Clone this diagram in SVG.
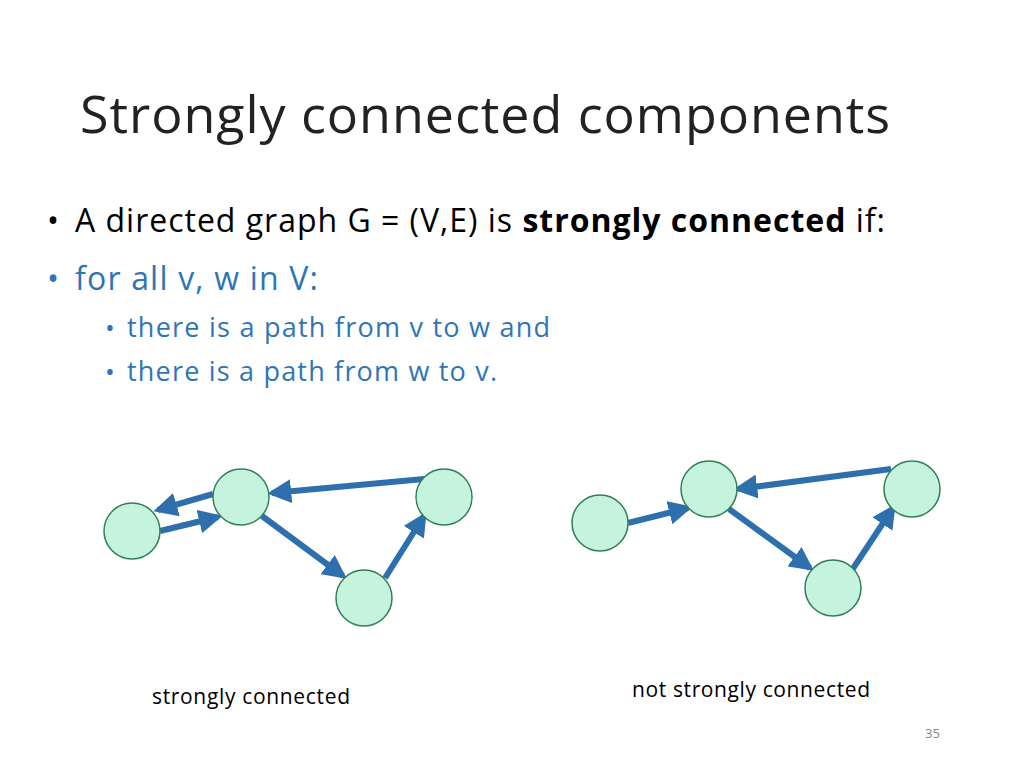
<svg xmlns="http://www.w3.org/2000/svg" width="1024" height="768" viewBox="0 0 1024 768">
<style>
text{font-family:"Open Sans","Liberation Sans",sans-serif}
.n{fill:#c6f3de;stroke:#2f7f55;stroke-width:1.5}
.e{stroke:#2e6fae;stroke-width:6;fill:none;marker-end:url(#ah)}
.b{fill:#2e75b6}
</style>
<defs><marker id="ah" viewBox="0 0 10 10" refX="8" refY="5" markerWidth="4" markerHeight="4" orient="auto" markerUnits="strokeWidth"><path d="M0,0L10,5L0,10z" fill="#2e6fae"/></marker></defs>
<rect width="1024" height="768" fill="#fff"/>
<text x="80" y="133" font-size="52" textLength="810" fill="#222">Strongly connected components</text>
<text x="47" y="232" font-size="32">•</text>
<text x="75" y="232" font-size="32" textLength="810">A directed graph G = (V,E) is <tspan font-weight="bold">strongly connected</tspan> if:</text>
<text x="47" y="290" font-size="32" class="b">•</text>
<text x="75" y="290" font-size="32" class="b" textLength="243">for all v, w in V:</text>
<text x="105" y="337" font-size="26" class="b">•</text>
<text x="127" y="337" font-size="27" class="b" textLength="423">there is a path from v to w and</text>
<text x="105" y="381" font-size="26" class="b">•</text>
<text x="127" y="381" font-size="27" class="b" textLength="370">there is a path from w to v.</text>
<g id="connectors">
<line class="e" x1="424" y1="479" x2="272" y2="493"/>
<line class="e" x1="213" y1="494" x2="158" y2="510"/>
<line class="e" x1="160" y1="531" x2="218" y2="517"/>
<line class="e" x1="262" y1="516" x2="343" y2="576"/>
<line class="e" x1="385" y1="578" x2="424" y2="516"/>
<line class="e" x1="628" y1="523" x2="688" y2="508"/>
<line class="e" x1="891" y1="469" x2="738" y2="489"/>
<line class="e" x1="729" y1="509" x2="810" y2="568"/>
<line class="e" x1="852" y1="570" x2="893" y2="508"/>
</g>
<g id="L1"><circle class="n" cx="132" cy="531" r="28"/></g>
<g id="L2"><circle class="n" cx="241" cy="497" r="28"/></g>
<g id="L3"><circle class="n" cx="444" cy="497" r="28"/></g>
<g id="L4"><circle class="n" cx="364" cy="598" r="28"/></g>
<g id="R1"><circle class="n" cx="600" cy="523" r="28"/></g>
<g id="R2"><circle class="n" cx="709" cy="489" r="28"/></g>
<g id="R3"><circle class="n" cx="912" cy="489" r="28"/></g>
<g id="R4"><circle class="n" cx="833" cy="588" r="28"/></g>
<text x="152" y="704" font-size="21" textLength="198">strongly connected</text>
<text x="632" y="697" font-size="21" textLength="238">not strongly connected</text>
<text x="925" y="738" font-size="13" fill="#888">35</text>
</svg>
